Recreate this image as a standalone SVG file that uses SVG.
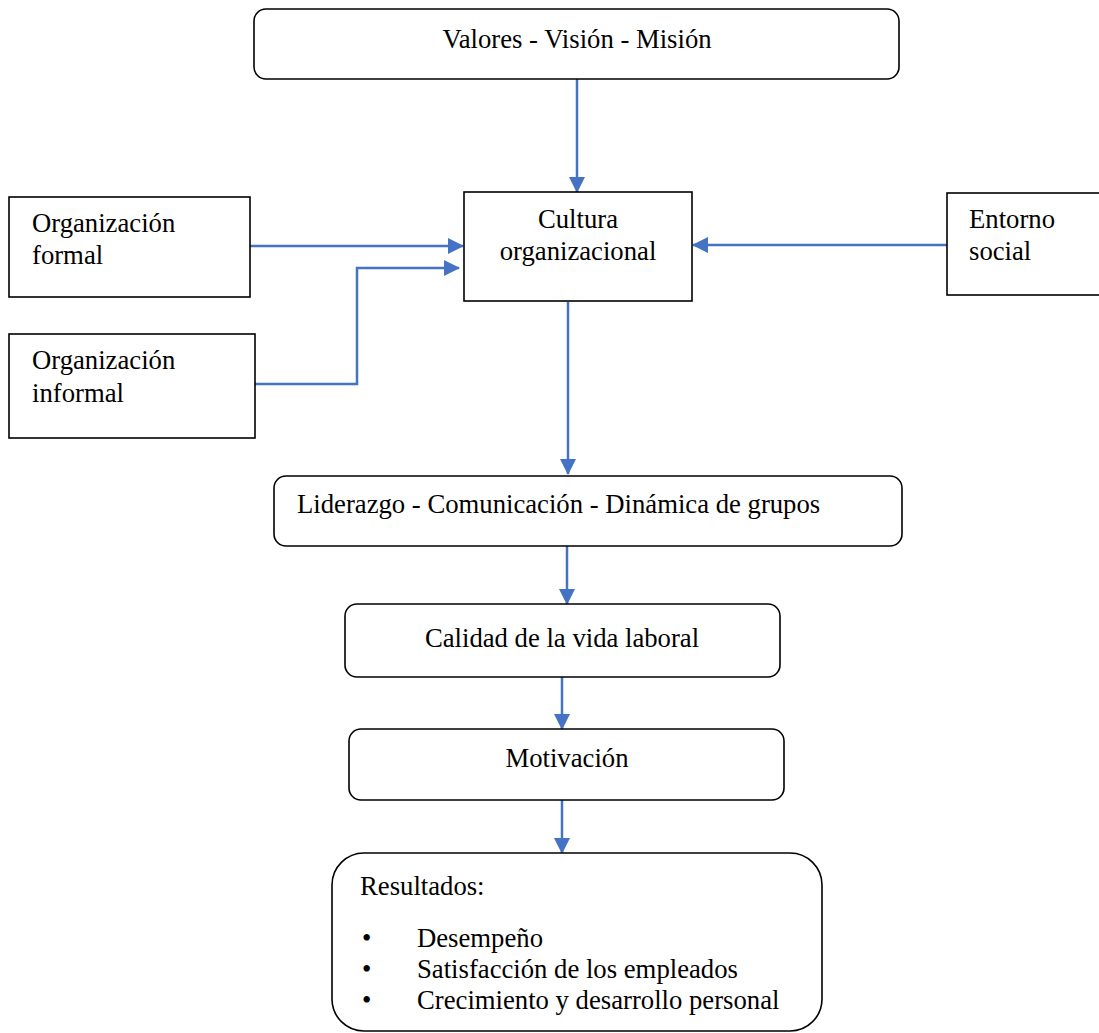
<svg xmlns="http://www.w3.org/2000/svg" width="1099" height="1033" viewBox="0 0 1099 1033">
  <style>
    .box { fill: #ffffff; stroke: #000000; stroke-width: 1.6; }
    .lbl { font-family: 'Liberation Serif', 'Times New Roman', Times, serif; font-size: 26.7px; fill: #000000; }
    .mid { text-anchor: middle; }
    .link { fill: none; stroke: #4472C4; stroke-width: 2.5; marker-end: url(#head); }
  </style>
  <defs>
    <marker id="head" markerUnits="userSpaceOnUse" markerWidth="16" markerHeight="16" viewBox="0 0 16 16" refX="15" refY="8" orient="auto">
      <path d="M0,0 L16,8 L0,16 Z" fill="#4472C4"/>
    </marker>
  </defs>
  <rect width="1099" height="1033" fill="#ffffff"/>

  <g id="connectors">
    <path class="link" d="M577,79 V192"/>
    <path class="link" d="M250,246 H463"/>
    <path class="link" d="M255,384 H357 V268 H459"/>
    <path class="link" d="M947,245 H693"/>
    <path class="link" d="M568,302 V474"/>
    <path class="link" d="M567,546 V604"/>
    <path class="link" d="M562,677 V729"/>
    <path class="link" d="M562,800 V853"/>
  </g>

  <g font-family="Liberation Serif, Times New Roman, serif">
    <g id="valores">
      <rect class="box" x="254" y="9" width="645" height="70" rx="12"/>
      <text class="lbl mid" x="577" y="48">Valores - Visión - Misión</text>
    </g>

    <g id="cultura">
      <rect class="box" x="464" y="192" width="228" height="109"/>
      <text class="lbl mid" x="578" y="228">Cultura</text>
      <text class="lbl mid" x="578" y="260">organizacional</text>
    </g>

    <g id="org-formal">
      <rect class="box" x="9" y="197" width="241" height="100"/>
      <text class="lbl" x="32" y="232">Organización</text>
      <text class="lbl" x="32" y="264">formal</text>
    </g>

    <g id="org-informal">
      <rect class="box" x="9" y="334" width="246" height="104"/>
      <text class="lbl" x="32" y="369">Organización</text>
      <text class="lbl" x="32" y="402">informal</text>
    </g>

    <g id="entorno">
      <rect class="box" x="947" y="193" width="170" height="102"/>
      <text class="lbl" x="969" y="228">Entorno</text>
      <text class="lbl" x="969" y="260">social</text>
    </g>

    <g id="liderazgo">
      <rect class="box" x="274" y="476" width="628" height="70" rx="12"/>
      <text class="lbl" x="297" y="513">Liderazgo - Comunicación - Dinámica de grupos</text>
    </g>

    <g id="calidad">
      <rect class="box" x="345" y="604" width="435" height="73" rx="12"/>
      <text class="lbl mid" x="562" y="647">Calidad de la vida laboral</text>
    </g>

    <g id="motivacion">
      <rect class="box" x="349" y="729" width="435" height="71" rx="12"/>
      <text class="lbl mid" x="567" y="767">Motivación</text>
    </g>

    <g id="resultados">
      <rect class="box" x="332" y="853" width="490" height="178" rx="32"/>
      <text class="lbl" x="360" y="895">Resultados:</text>
      <text class="lbl" x="362" y="947">•</text>
      <text class="lbl" x="417" y="947">Desempeño</text>
      <text class="lbl" x="362" y="978">•</text>
      <text class="lbl" x="417" y="978">Satisfacción de los empleados</text>
      <text class="lbl" x="362" y="1009">•</text>
      <text class="lbl" x="417" y="1009">Crecimiento y desarrollo personal</text>
    </g>
  </g>
</svg>
